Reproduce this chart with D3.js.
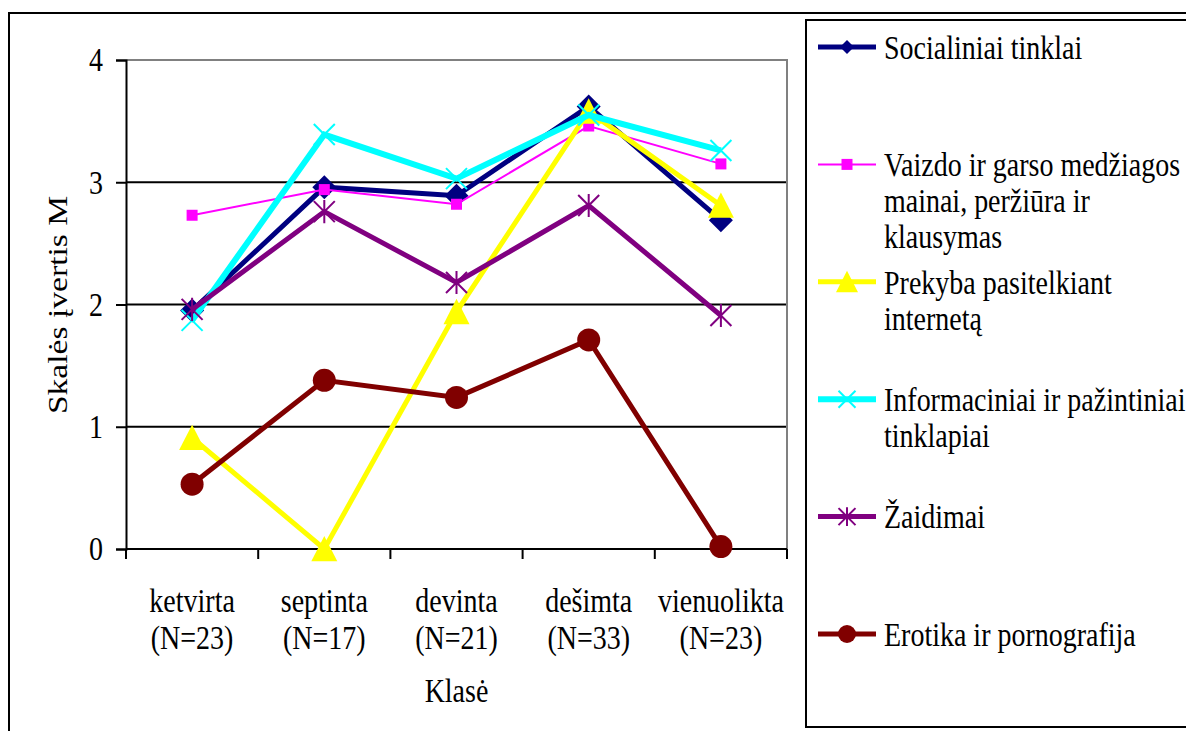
<!DOCTYPE html>
<html>
<head>
<meta charset="utf-8">
<script src="https://cdn.jsdelivr.net/npm/d3@7"></script>
<style>
	body { margin: 0; background: #fff; }
	svg { display: block; font-family: "Liberation Serif", "Times New Roman", serif; }
</style>
</head>
<body>
<div id="chart"></div>
<script>
// data
var categories = ["ketvirta", "septinta", "devinta", "dešimta", "vienuolikta"];
var groupSizes = ["(N=23)", "(N=17)", "(N=21)", "(N=33)", "(N=23)"];
var yTicks = [0, 1, 2, 3, 4];

var socialiniai = [1.95, 2.96, 2.89, 3.62, 2.69];
var vaizdo = [2.73, 2.94, 2.82, 3.46, 3.15];
var prekyba = [0.91, 0.0, 1.94, 3.58, 2.81];
var informaciniai = [1.87, 3.39, 3.03, 3.55, 3.26];
var zaidimai = [1.96, 2.76, 2.18, 2.81, 1.91];
var erotika = [0.53, 1.38, 1.24, 1.71, 0.02];

var seriesLabels = [
	["Socialiniai tinklai"],
	["Vaizdo ir garso medžiagos", "mainai, peržiūra ir", "klausymas"],
	["Prekyba pasitelkiant", "internetą"],
	["Informaciniai ir pažintiniai", "tinklapiai"],
	["Žaidimai"],
	["Erotika ir pornografija"]
];

(function() {
	'use strict';

	var W = 1186, H = 731,
		plot = { left: 126, right: 787, top: 60, bottom: 549 },
		stretch = 1.2,
		fontSize = 28;

	var series = [
		{ values: socialiniai, color: "#000080", width: 5, marker: "diamond", size: 12, legendSize: 7 },
		{ values: vaizdo, color: "#FF00FF", width: 2, marker: "square", size: 5.5, legendSize: 5.5 },
		{ values: prekyba, color: "#FFFF00", width: 5, marker: "triangle", size: 13, legendSize: 11 },
		{ values: informaciniai, color: "#00FFFF", width: 6, marker: "cross", size: 10.5, legendSize: 8.5 },
		{ values: zaidimai, color: "#800080", width: 5, marker: "star", size: 10.5, legendSize: 8.5 },
		{ values: erotika, color: "#800000", width: 5, marker: "circle", size: 11.5, legendSize: 9 }
	];
	series.forEach(function(s, i) { s.label = seriesLabels[i]; });

	var svg = d3.select("#chart").append("svg")
		.attr("width", W)
		.attr("height", H);

	svg.append("rect").attr("width", W).attr("height", H).attr("fill", "#fff");

	var x = d3.scaleBand().domain(categories).range([plot.left, plot.right]),
		y = d3.scaleLinear().domain([0, 4]).range([plot.bottom, plot.top]),
		cx = function(i) { return x(categories[i]) + x.bandwidth() / 2; };

	function label(g, px, py, str, anchor) {
		return g.append("text")
			.attr("transform", "translate(" + px + "," + py + ") scale(1," + stretch + ")")
			.attr("text-anchor", anchor || "start")
			.attr("dy", "0.35em")
			.attr("font-size", fontSize)
			.attr("fill", "#000")
			.text(str);
	}

	function markerPath(type, r) {
		switch (type) {
		case "diamond":
			return "M0," + (-r) + "L" + r + ",0L0," + r + "L" + (-r) + ",0Z";
		case "square":
			return "M" + (-r) + "," + (-r) + "H" + r + "V" + r + "H" + (-r) + "Z";
		case "triangle":
			return "M0," + (-r) + "L" + r + "," + r * 0.95 + "L" + (-r) + "," + r * 0.95 + "Z";
		case "cross":
			return "M" + (-r) + "," + (-r) + "L" + r + "," + r + "M" + r + "," + (-r) + "L" + (-r) + "," + r;
		case "star":
			return "M" + (-r) + "," + (-r) + "L" + r + "," + r + "M" + r + "," + (-r) + "L" + (-r) + "," + r +
				"M0," + (-r * 1.1) + "V" + r * 1.1;
		default:
			return d3.arc()({ innerRadius: 0, outerRadius: r, startAngle: 0, endAngle: 2 * Math.PI });
		}
	}

	function drawMarker(g, s, r) {
		var stroked = s.marker === "cross" || s.marker === "star";
		return g.append("path")
			.attr("d", markerPath(s.marker, r))
			.attr("fill", stroked ? "none" : s.color)
			.attr("stroke", stroked ? s.color : "none")
			.attr("stroke-width", stroked ? 2 : 0);
	}

	// outer frame and legend frame
	svg.append("rect")
		.attr("x", 9).attr("y", 13)
		.attr("width", W).attr("height", H)
		.attr("fill", "none").attr("stroke", "#000").attr("stroke-width", 2);

	// gridlines
	svg.append("g").selectAll("line")
		.data(yTicks.filter(function(d) { return d > 0 && d < 4; }))
		.enter().append("line")
		.attr("x1", plot.left).attr("x2", plot.right)
		.attr("y1", function(d) { return y(d); }).attr("y2", function(d) { return y(d); })
		.attr("stroke", "#000").attr("stroke-width", 2);

	// plot area border (top, right)
	svg.append("path")
		.attr("d", "M" + plot.left + "," + plot.top + "H" + plot.right + "V" + plot.bottom)
		.attr("fill", "none").attr("stroke", "#808080").attr("stroke-width", 2);

	// y axis
	var yAxis = svg.append("g")
		.attr("transform", "translate(" + plot.left + ",0)")
		.call(d3.axisLeft(y).tickValues(yTicks).tickFormat(d3.format("d")).tickSize(10).tickPadding(13));
	yAxis.select(".domain").attr("stroke", "#000").attr("stroke-width", 2);
	yAxis.selectAll(".tick line").attr("stroke", "#000").attr("stroke-width", 2);
	yAxis.selectAll(".tick text")
		.attr("font-family", "Liberation Serif, serif")
		.attr("font-size", fontSize)
		.attr("fill", "#000")
		.attr("transform", "scale(1," + stretch + ")");

	// x axis
	var xAxis = svg.append("g");
	xAxis.append("line")
		.attr("x1", plot.left).attr("x2", plot.right)
		.attr("y1", plot.bottom).attr("y2", plot.bottom)
		.attr("stroke", "#000").attr("stroke-width", 2);
	xAxis.selectAll(".xt")
		.data(categories.concat([null]))
		.enter().append("line")
		.attr("class", "xt")
		.attr("x1", function(d) { return d === null ? plot.right : x(d); })
		.attr("x2", function(d) { return d === null ? plot.right : x(d); })
		.attr("y1", plot.bottom).attr("y2", plot.bottom + 10)
		.attr("stroke", "#000").attr("stroke-width", 2);

	categories.forEach(function(c, i) {
		label(xAxis, cx(i), 600, c, "middle");
		label(xAxis, cx(i), 637, groupSizes[i], "middle");
	});

	// axis titles
	label(svg, (plot.left + plot.right) / 2, 690, "Klasė", "middle");
	svg.append("text")
		.attr("transform", "translate(57,305) rotate(-90) scale(" + stretch + ",1)")
		.attr("text-anchor", "middle")
		.attr("dy", "0.35em")
		.attr("font-size", fontSize)
		.text("Skalės įvertis M");

	// series
	var line = d3.line()
		.x(function(d, i) { return cx(i); })
		.y(function(d) { return y(d); });

	series.forEach(function(s) {
		var g = svg.append("g");
		g.append("path")
			.datum(s.values)
			.attr("d", line)
			.attr("fill", "none")
			.attr("stroke", s.color)
			.attr("stroke-width", s.width)
			.attr("stroke-linejoin", "miter");
		s.values.forEach(function(v, i) {
			drawMarker(g, s, s.size).attr("transform", "translate(" + cx(i) + "," + y(v) + ")");
		});
	});

	// legend
	var legend = svg.append("g");
	legend.append("rect")
		.attr("x", 806).attr("y", 20)
		.attr("width", 420).attr("height", 707)
		.attr("fill", "#fff").attr("stroke", "#000").attr("stroke-width", 2);

	series.forEach(function(s, i) {
		var ly = 47 + i * 117.4,
			item = legend.append("g");
		item.append("line")
			.attr("x1", 818).attr("x2", 876)
			.attr("y1", ly).attr("y2", ly)
			.attr("stroke", s.color).attr("stroke-width", s.width);
		drawMarker(item, s, s.legendSize).attr("transform", "translate(847," + ly + ")");
		s.label.forEach(function(t, k) {
			label(item, 884, ly + k * 36, t, "start");
		});
	});
})();
</script>
</body>
</html>
